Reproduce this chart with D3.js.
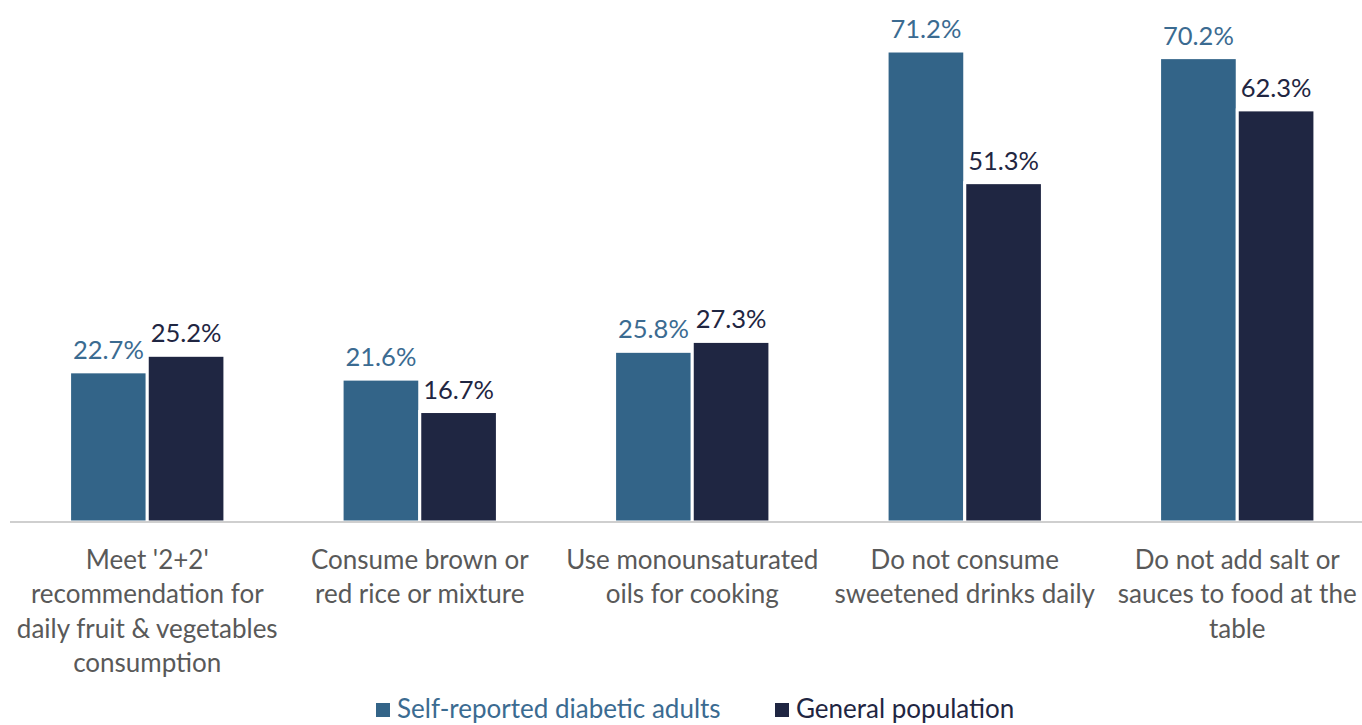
<!DOCTYPE html>
<html>
<head>
<meta charset="utf-8">
<script src="https://cdn.jsdelivr.net/npm/d3@7"></script>
<style>
  html, body { margin: 0; padding: 0; background: #ffffff; }
  svg { display: block; }
  text { font-family: Lato, "Open Sans", sans-serif; }
</style>
</head>
<body>
<svg id="chart" width="1362" height="725"></svg>
<script>
// Healthy eating behaviours: diabetic adults vs general population
const categories = [
  "Meet '2+2'\nrecommendation for\ndaily fruit & vegetables\nconsumption",
  "Consume brown or\nred rice or mixture",
  "Use monounsaturated\noils for cooking",
  "Do not consume\nsweetened drinks daily",
  "Do not add salt or\nsauces to food at the\ntable"
];
const seriesNames = ["Self-reported diabetic adults", "General population"];
const diabeticValues = [22.7, 21.6, 25.8, 71.2, 70.2];
const generalValues = [25.2, 16.7, 27.3, 51.3, 62.3];
const seriesColors = ["#336488", "#1f2642"];
const labelColors = ["#3b6b91", "#1f2642"];

const svg = d3.select("#chart");
const baseY = 522;

const data = categories.map((c, i) => ({
  category: c,
  values: [diabeticValues[i], generalValues[i]]
}));

const x = d3.scaleBand()
  .domain(categories)
  .range([11, 1373.5])
  .paddingInner(0.43)
  .paddingOuter(0.215);

const xSub = d3.scaleBand()
  .domain([0, 1])
  .range([0, x.bandwidth()])
  .paddingInner(0.0);

const y = d3.scaleLinear()
  .domain([0, 80])
  .range([baseY, baseY - 80 * 6.615]);

// bars
const groups = svg.append("g").selectAll("g")
  .data(data)
  .join("g")
  .attr("transform", d => `translate(${x(d.category)},0)`);

groups.selectAll("rect")
  .data(d => d.values.map((v, k) => ({ v, k })))
  .join("rect")
  .attr("x", d => xSub(d.k))
  .attr("y", d => y(d.v))
  .attr("width", xSub.bandwidth())
  .attr("height", d => y(0) - y(d.v))
  .attr("fill", d => seriesColors[d.k])
  .attr("stroke", "#ffffff")
  .attr("stroke-width", 3);

// value labels
groups.selectAll("text.val")
  .data(d => d.values.map((v, k) => ({ v, k })))
  .join("text")
  .attr("class", "val")
  .attr("x", d => xSub(d.k) + xSub.bandwidth() / 2)
  .attr("y", d => y(d.v) - 13)
  .attr("text-anchor", "middle")
  .attr("font-size", 25.5)
  .attr("fill", d => labelColors[d.k])
  .text(d => d.v.toFixed(1) + "%");

// baseline axis
const xAxis = d3.axisBottom(x).tickSize(0).tickFormat("");
const axisG = svg.append("g")
  .attr("transform", `translate(0,${baseY})`)
  .call(xAxis);
axisG.select(".domain")
  .attr("stroke", "#bfbfbf")
  .attr("stroke-width", 1.5)
  .attr("d", `M10,0H1362`);

// category labels
const catG = svg.append("g");
categories.forEach(c => {
  const lines = c.split("\n");
  const t = catG.append("text")
    .attr("text-anchor", "middle")
    .attr("font-size", 26)
    .attr("fill", "#595959");
  lines.forEach((ln, i) => {
    t.append("tspan")
      .attr("x", x(c) + x.bandwidth() / 2)
      .attr("y", 569 + i * 34.3)
      .text(ln);
  });
});

// legend
const legend = svg.append("g");
const legendItems = [
  { name: seriesNames[0], color: seriesColors[0], text: labelColors[0], x: 376 },
  { name: seriesNames[1], color: seriesColors[1], text: "#1f2642", x: 775 }
];
legendItems.forEach(it => {
  legend.append("rect")
    .attr("x", it.x).attr("y", 703)
    .attr("width", 14).attr("height", 14)
    .attr("fill", it.color);
  legend.append("text")
    .attr("x", it.x + 21).attr("y", 718)
    .attr("font-size", 26)
    .attr("fill", it.text)
    .text(it.name);
});
</script>
</body>
</html>
